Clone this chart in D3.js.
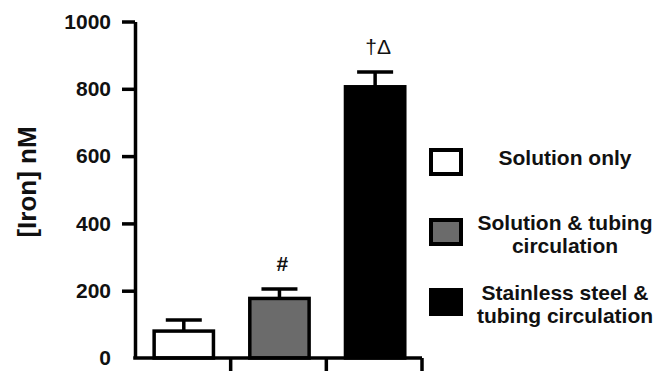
<!DOCTYPE html>
<html>
<head>
<meta charset="utf-8">
<script src="https://cdn.jsdelivr.net/npm/d3@7"></script>
<style>
  body { margin: 0; background: #fff; }
  svg { display: block; }
  text { font-family: 'Liberation Sans', Arial, sans-serif; font-weight: bold; fill: #111; }
</style>
</head>
<body>
<svg id="chart" width="667" height="371"></svg>
<script>
// Data
const groups = ['Solution only', 'Solution & tubing circulation', 'Stainless steel & tubing circulation'];
const means = [80, 177, 806];
const errors = [33, 28, 44];
const marks = ['', '#', '\u2020\u0394'];
const legendLines = [['Solution only'], ['Solution & tubing', 'circulation'], ['Stainless steel &', 'tubing circulation']];
const yTicks = [0, 200, 400, 600, 800, 1000];

const svg = d3.select('#chart');
const width = 667, height = 371;
const margin = { left: 135, right: 245, top: 21.5, bottom: 13 };

const color = d3.scaleOrdinal().domain(groups).range(['#ffffff', '#6b6b6b', '#000000']);

const x = d3.scaleBand()
  .domain(groups)
  .range([margin.left, width - margin.right])
  .padding(0);

const y = d3.scaleLinear()
  .domain([0, 1000])
  .range([height - margin.bottom, margin.top]);

const barW = x.bandwidth() * 0.62;
const barX = d => x(d) + x.bandwidth() * 0.2;

// Bars
svg.append('g')
  .selectAll('rect')
  .data(groups)
  .enter()
  .append('rect')
    .attr('x', d => barX(d))
    .attr('y', (d, i) => y(means[i]))
    .attr('width', barW)
    .attr('height', (d, i) => y(0) - y(means[i]))
    .attr('fill', d => color(d))
    .attr('stroke', '#000')
    .attr('stroke-width', 3.5);

// Error bars
const errG = svg.append('g').attr('stroke', '#000').attr('stroke-width', 3.5);
groups.forEach((d, i) => {
  const cx = barX(d) + barW / 2;
  errG.append('line')
    .attr('x1', cx).attr('x2', cx)
    .attr('y1', y(means[i])).attr('y2', y(means[i] + errors[i]));
  errG.append('line')
    .attr('x1', cx - 18).attr('x2', cx + 18)
    .attr('y1', y(means[i] + errors[i])).attr('y2', y(means[i] + errors[i]));
});

// Significance marks
svg.append('g')
  .selectAll('text')
  .data(groups)
  .enter()
  .append('text')
    .attr('x', d => barX(d) + barW / 2 + 3)
    .attr('y', (d, i) => y(means[i] + errors[i]) - 18)
    .attr('text-anchor', 'middle')
    .style('font-size', '21px')
    .style('font-weight', (d, i) => marks[i] === '#' ? 'bold' : 'normal')
    .text((d, i) => marks[i]);

// Y axis
const yAxis = svg.append('g')
  .attr('transform', `translate(${margin.left},0)`)
  .call(d3.axisLeft(y).tickValues(yTicks).tickFormat(d3.format('d'))
    .tickSize(13).tickSizeOuter(0).tickPadding(11));
yAxis.select('.domain').attr('stroke', '#000').attr('stroke-width', 3.5);
yAxis.selectAll('.tick line').attr('stroke', '#000').attr('stroke-width', 3.5)
  .filter(d => d === 0).remove();
yAxis.selectAll('.tick text')
  .style('font-size', '21px')
  .style('font-family', "'Liberation Sans', Arial, sans-serif")
  .style('font-weight', 'bold')
  .attr('fill', '#111');

// X axis
const xAxis = svg.append('g').attr('stroke', '#000').attr('stroke-width', 3.5);
xAxis.append('line')
  .attr('x1', margin.left - 1.75).attr('x2', x(groups[2]) + x.bandwidth())
  .attr('y1', y(0)).attr('y2', y(0));
xAxis.selectAll('line.tick')
  .data(groups)
  .enter()
  .append('line')
    .attr('class', 'tick')
    .attr('x1', d => x(d) + x.bandwidth()).attr('x2', d => x(d) + x.bandwidth())
    .attr('y1', y(0)).attr('y2', height + 2);

// Y axis label
svg.append('text')
  .attr('transform', `translate(36,182) rotate(-90)`)
  .attr('text-anchor', 'middle')
  .style('font-size', '26px')
  .text('[Iron] nM');

// Legend
const legend = svg.append('g');
const boxY = [162, 232, 302];
const lineH = 23;
groups.forEach((d, i) => {
  legend.append('rect')
    .attr('x', 431).attr('y', boxY[i] - 12)
    .attr('width', 30).attr('height', 24)
    .attr('fill', color(d))
    .attr('stroke', '#000')
    .attr('stroke-width', 4);
  const lines = legendLines[i];
  const y0 = (i === 0 ? boxY[i] - 4 : boxY[i] + 2) - (lines.length - 1) * lineH / 2;
  lines.forEach((t, j) => {
    legend.append('text')
      .attr('x', 565)
      .attr('y', y0 + j * lineH)
      .attr('dy', '0.35em')
      .attr('text-anchor', 'middle')
      .style('font-size', '21px')
      .text(t);
  });
});
</script>
</body>
</html>
